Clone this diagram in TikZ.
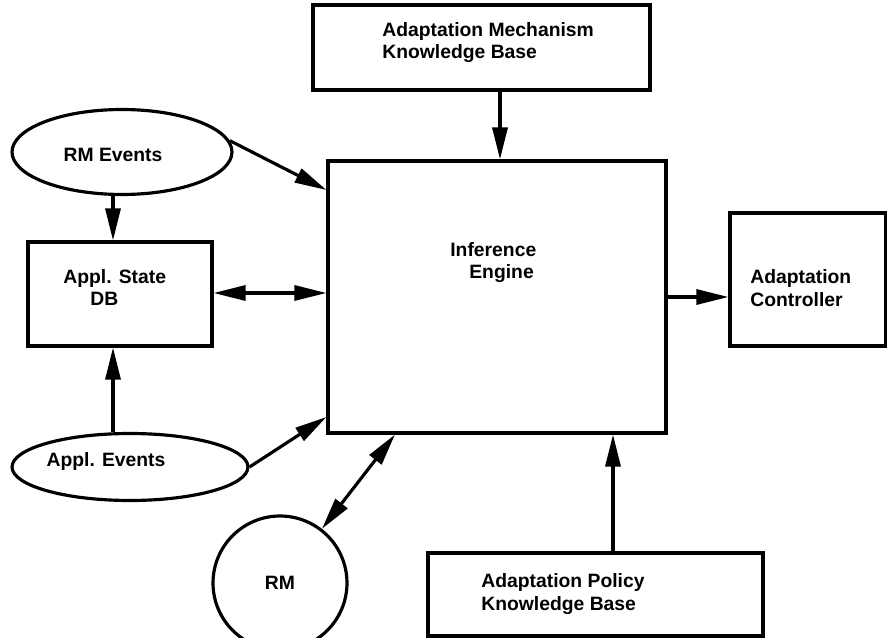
\documentclass[tikz,border=0pt]{standalone}
\usepackage{fontspec}
\setmainfont{Liberation Sans}
\usetikzlibrary{arrows.meta,shapes.geometric}

\tikzset{
	box/.style={draw, rectangle, line width=1.8pt, inner sep=0pt},
	oval/.style={draw, ellipse, line width=1.8pt, inner sep=0pt},
	txt/.style={font=\fontsize{11}{13}\selectfont\bfseries, align=left, inner sep=0pt},
	conn/.style={line width=1.8pt},
}

\begin{document}
\begin{tikzpicture}[x=0.02cm, y=-0.02cm, >={Triangle[length=0.64cm,width=0.3cm]}]
	\useasboundingbox (0,0) rectangle (887,638);

	% boxes
	\node[box, minimum width=6.74cm, minimum height=1.7cm] (mechkb) at (481.5, 47.5) {};
	\node[box, minimum width=6.76cm, minimum height=5.44cm] (engine) at (497, 297) {};
	\node[box, minimum width=3.12cm, minimum height=2.66cm] (ctrl) at (808, 279.5) {};
	\node[box, minimum width=3.68cm, minimum height=2.08cm] (state) at (120, 294) {};
	\node[box, minimum width=6.7cm, minimum height=1.66cm] (policy) at (595.5, 594.5) {};

	% events and the RM
	\node[oval, minimum width=4.4cm, minimum height=1.7cm] (rmev) at (122, 152) {};
	\node[oval, minimum width=4.72cm, minimum height=1.34cm] (apev) at (130, 467) {};
	\node[draw, circle, line width=1.8pt, minimum size=2.68cm, txt] (rm) at (280, 583) {RM};

	% texts
	\node[txt, anchor=west] (mechtxt) at (382, 42.5) {Adaptation Mechanism\\Knowledge Base};
	\node[txt, anchor=west] (enginetxt) at (450, 262.5) {Inference\\\hspace*{0.38cm}Engine};
	\node[txt, anchor=west] (ctrltxt) at (750, 288.5) {Adaptation\\Controller};
	\node[txt, anchor=west] (statetxt) at (63, 287.5) {Appl. State\\\hspace*{0.54cm}DB};
	\node[txt, anchor=west] (policytxt) at (481, 594) {Adaptation Policy\\Knowledge Base};
	\node[txt] (rmevtxt) at (113, 155) {RM Events};
	\node[txt] (apevtxt) at (106, 462) {Appl. Events};

	% where the arrows meet
	\coordinate (mx) at (500, 0);
	\coordinate (px) at (613, 0);
	\coordinate (rx) at (395, 0);
	\coordinate (sx) at (113, 0);
	\coordinate (hiA) at (0, 190);
	\coordinate (hiB) at (0, 293);
	\coordinate (hiC) at (0, 417);

	% arrows
	\draw[conn, ->] (mechkb.south -| mx) -- (engine.north -| mx);
	\draw[conn, ->] (rmev.6) -- (engine.west |- hiA);
	\draw[conn, ->] (rmev.south -| sx) -- (state.north -| sx);
	\draw[conn, <->] (state.east |- hiB) -- (engine.west |- hiB);
	\draw[conn, ->] (apev.north -| sx) -- (state.south -| sx);
	\draw[conn, ->] (apev.east) -- (engine.west |- hiC);
	\draw[conn, <->] (engine.south -| rx) -- (rm);
	\draw[conn, ->] (engine.east) -- (engine.east -| ctrl.west);
	\draw[conn, ->] (policy.north -| px) -- (engine.south -| px);
\end{tikzpicture}
\end{document}
